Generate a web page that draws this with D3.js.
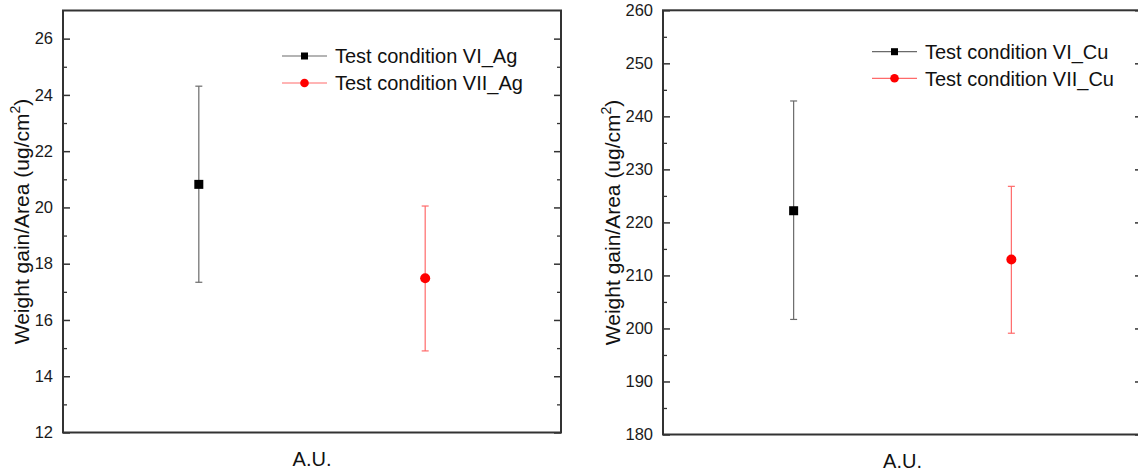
<!DOCTYPE html>
<html>
<head>
<meta charset="utf-8">
<script src="https://cdn.jsdelivr.net/npm/d3@7"></script>
<style>
  html, body { margin: 0; padding: 0; background: #fff; }
  svg { display: block; font-family: "Liberation Sans", Arial, sans-serif; }
</style>
</head>
<body>
<svg id="chart" width="1138" height="471"></svg>
<script>
// ---- data ----
const xPositions = [1, 2];
const agLabels = ["Test condition VI_Ag", "Test condition VII_Ag"];
const agMeans  = [20.82, 17.48];
const agLow    = [17.34, 14.90];
const agHigh   = [24.31, 20.05];
const agTicks  = [12, 14, 16, 18, 20, 22, 24, 26];
const agMinor  = [13, 15, 17, 19, 21, 23, 25];

const cuLabels = ["Test condition VI_Cu", "Test condition VII_Cu"];
const cuMeans  = [222.2, 213.0];
const cuLow    = [201.7, 199.1];
const cuHigh   = [242.9, 226.8];
const cuTicks  = [180, 190, 200, 210, 220, 230, 240, 250, 260];
const cuMinor  = [185, 195, 205, 215, 225, 235, 245, 255];

const markerColors = ["#000000", "#ff0000"];
const barColors    = ["#6a6a6a", "#ff6a6a"];
const xLabel = "A.U.";

const svg = d3.select("#chart");

function drawPanel(cfg) {
  const g = svg.append("g");
  const x = d3.scaleLinear().domain([0.4, 2.6]).range([cfg.left, cfg.right]);
  const y = d3.scaleLinear().domain(cfg.domain).range([cfg.bottom, cfg.top]);

  // minor ticks
  g.append("g").attr("transform", `translate(${cfg.left},0)`)
    .call(d3.axisLeft(y).tickValues(cfg.minor).tickSize(-4).tickFormat(""))
    .call(s => s.select(".domain").remove())
    .call(s => s.selectAll("line").attr("stroke", "#333").attr("stroke-width", 1.3));
  g.append("g").attr("transform", `translate(${cfg.right},0)`)
    .call(d3.axisRight(y).tickValues(cfg.minor).tickSize(-4).tickFormat(""))
    .call(s => s.select(".domain").remove())
    .call(s => s.selectAll("line").attr("stroke", "#333").attr("stroke-width", 1.3));

  // major ticks with labels
  g.append("g").attr("transform", `translate(${cfg.left},0)`)
    .call(d3.axisLeft(y).tickValues(cfg.ticks).tickSize(-7).tickPadding(10))
    .call(s => s.select(".domain").remove())
    .call(s => s.selectAll("line").attr("stroke", "#333").attr("stroke-width", 1.5))
    .call(s => s.selectAll("text").attr("font-size", 16.5).attr("fill", "#1a1a1a")
      .attr("font-family", "'Liberation Sans', Arial, sans-serif"));
  g.append("g").attr("transform", `translate(${cfg.right},0)`)
    .call(d3.axisRight(y).tickValues(cfg.ticks).tickSize(-7).tickFormat(""))
    .call(s => s.select(".domain").remove())
    .call(s => s.selectAll("line").attr("stroke", "#333").attr("stroke-width", 1.5));

  // frame
  g.append("rect")
    .attr("x", cfg.left).attr("y", cfg.top)
    .attr("width", cfg.right - cfg.left).attr("height", cfg.bottom - cfg.top)
    .attr("fill", "none").attr("stroke", "#333").attr("stroke-width", 2);

  // error bars
  const cap = 3.5;
  xPositions.forEach((xv, i) => {
    const cx = x(xv);
    const eb = g.append("g").attr("stroke", barColors[i]).attr("stroke-width", 1.2);
    eb.append("line").attr("x1", cx).attr("x2", cx).attr("y1", y(cfg.low[i])).attr("y2", y(cfg.high[i]));
    eb.append("line").attr("x1", cx - cap).attr("x2", cx + cap).attr("y1", y(cfg.low[i])).attr("y2", y(cfg.low[i]));
    eb.append("line").attr("x1", cx - cap).attr("x2", cx + cap).attr("y1", y(cfg.high[i])).attr("y2", y(cfg.high[i]));
  });

  // markers
  const sq = 9;
  g.append("rect")
    .attr("x", x(xPositions[0]) - sq / 2).attr("y", y(cfg.means[0]) - sq / 2)
    .attr("width", sq).attr("height", sq).attr("fill", markerColors[0]);
  g.append("circle")
    .attr("cx", x(xPositions[1])).attr("cy", y(cfg.means[1])).attr("r", 5)
    .attr("fill", markerColors[1]);

  // legend
  cfg.labels.forEach((lab, i) => {
    const ly = cfg.legY + i * cfg.legStep;
    g.append("line").attr("x1", cfg.legX).attr("x2", cfg.legX + 45)
      .attr("y1", ly).attr("y2", ly).attr("stroke", barColors[i]).attr("stroke-width", 1.2);
    if (i === 0) {
      g.append("rect").attr("x", cfg.legX + 22.5 - 3.5).attr("y", ly - 3.5)
        .attr("width", 7).attr("height", 7).attr("fill", markerColors[0]);
    } else {
      g.append("circle").attr("cx", cfg.legX + 22.5).attr("cy", ly).attr("r", 4.3)
        .attr("fill", markerColors[1]);
    }
    g.append("text").attr("x", cfg.legX + 53).attr("y", ly).attr("dy", "0.36em")
      .attr("font-size", 20).attr("fill", "#111").text(lab);
  });

  // y title
  const t = g.append("text")
    .attr("transform", `translate(${cfg.titleX},${(cfg.top + cfg.bottom) / 2}) rotate(-90)`)
    .attr("text-anchor", "middle").attr("dy", "0.36em")
    .attr("font-size", 21).attr("fill", "#111");
  t.append("tspan").text("Weight gain/Area (ug/cm");
  t.append("tspan").attr("font-size", 14).attr("dy", "-0.6em").text("2");
  t.append("tspan").attr("dy", "0.4em").text(")");

  // x label
  g.append("text").attr("x", (cfg.left + cfg.right) / 2).attr("y", cfg.xLabY)
    .attr("text-anchor", "middle").attr("font-size", 20).attr("fill", "#111").text(xLabel);
}

drawPanel({
  left: 63, right: 561, top: 10.5, bottom: 432.5,
  domain: [12, 27], ticks: agTicks, minor: agMinor,
  means: agMeans, low: agLow, high: agHigh, labels: agLabels,
  legX: 282, legY: 56, legStep: 27, titleX: 21, xLabY: 466
});
drawPanel({
  left: 663, right: 1142, top: 10.3, bottom: 434.5,
  domain: [180, 260], ticks: cuTicks, minor: cuMinor,
  means: cuMeans, low: cuLow, high: cuHigh, labels: cuLabels,
  legX: 872, legY: 51.7, legStep: 26.6, titleX: 612, xLabY: 468
});
</script>
</body>
</html>
